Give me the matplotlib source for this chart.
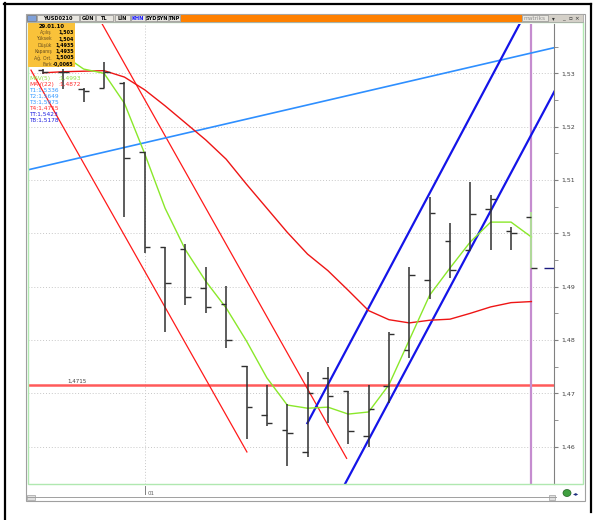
import matplotlib
matplotlib.use("Agg")
import matplotlib.pyplot as plt
from matplotlib.patches import Rectangle, Circle
from matplotlib.lines import Line2D
from matplotlib.transforms import blended_transform_factory

W, H = 598, 520

# daily OHLC bars (index 0..24), YUSD0210
opens = [1.5306, 1.5302, 1.5271, 1.5272, 1.5282, 1.5152, 1.4975, 1.4970, 1.4897, 1.4867,
         1.4751, 1.4659, 1.4631, 1.4589, 1.4729, 1.4705, 1.4620, 1.4714, 1.4782, 1.4912,
         1.4986, 1.4969, 1.5046, 1.5005, 1.5030]
highs = [1.5308, 1.5308, 1.5272, 1.5322, 1.5284, 1.5152, 1.4975, 1.4980, 1.4937, 1.4901,
         1.4751, 1.4716, 1.4680, 1.4739, 1.4750, 1.4705, 1.4716, 1.4814, 1.4936, 1.5069,
         1.5020, 1.5096, 1.5071, 1.5012, 1.5040]
lows = [1.5299, 1.5271, 1.5246, 1.5272, 1.5031, 1.4964, 1.4815, 1.4866, 1.4851, 1.4784,
        1.4614, 1.4639, 1.4564, 1.4580, 1.4645, 1.4605, 1.4600, 1.4681, 1.4766, 1.4876,
        1.4916, 1.4969, 1.4969, 1.4969, 1.4935]
closes = [1.5302, 1.5303, 1.5267, 1.5302, 1.5142, 1.4975, 1.4906, 1.4881, 1.4861, 1.4800,
          1.4675, 1.4644, 1.4625, 1.4701, 1.4695, 1.4630, 1.4670, 1.4811, 1.4922, 1.5039,
          1.4931, 1.5036, 1.5064, 1.5000, 1.4935]

# moving averages
mav5 = [1.5347, 1.5334, 1.5308, 1.5300, 1.5244, 1.5149, 1.5047, 1.4969, 1.4910, 1.4860,
        1.4798, 1.4729, 1.4678, 1.4672, 1.4674, 1.4661, 1.4665, 1.4716, 1.4800, 1.4884,
        1.4935, 1.4984, 1.5021, 1.5021, 1.4993]
mav22 = [1.5301, 1.5303, 1.5304, 1.5305, 1.5293, 1.5269, 1.5239, 1.5207, 1.5175, 1.5139,
         1.5092, 1.5047, 1.5002, 1.4961, 1.4930, 1.4893, 1.4855, 1.4838, 1.4832, 1.4837,
         1.4839, 1.4850, 1.4862, 1.4870, 1.4872]

# trend lines, end points as (bar index, price)
red_trend_1 = [(-0.59, 1.5306), (10.02, 1.4590)]
red_trend_2 = [(2.885, 1.5394), (14.92, 1.4578)]
blue_trend = [(-0.74, 1.5119), (25.11, 1.5348)]
channel_up = [(12.99, 1.4644), (23.44, 1.5394)]
channel_low = [(14.84, 1.4530), (25.13, 1.5266)]
level_line = 1.4715

y_ticks = [1.46, 1.47, 1.48, 1.49, 1.50, 1.51, 1.52, 1.53]
y_labels = ["1,46", "1,47", "1,48", "1,49", "1,5", "1,51", "1,52", "1,53"]

info_rows = [("Açılış", "1,503"), ("Yüksek", "1,504"), ("Düşük", "1,4935"),
             ("Kapanış", "1,4935"), ("Ağ. Ort.", "1,5005"), ("Fark", "-0,0065")]
legend_rows = [("MAV(5)", ":1,4993", "#8ee040"), ("MAV(22)", ":1,4872", "#ff3030"),
               ("T1:1,5336", "", "#3399ff"), ("T2:1,5649", "", "#3399ff"),
               ("T3:1,5975", "", "#3399ff"), ("T4:1,4715", "", "#ff3030"),
               ("TT:1,5423", "", "#2020e0"), ("T8:1,5178", "", "#2020e0")]

fig = plt.figure(figsize=(W / 100, H / 100), dpi=100)
fig.patch.set_facecolor("white")


def rect(x0, y0, x1, y1, **kw):
    r = Rectangle((x0 / W, 1 - y1 / H), (x1 - x0) / W, (y1 - y0) / H,
                  transform=fig.transFigure, **kw)
    fig.add_artist(r)
    return r


def line(xs, ys, **kw):
    fig.add_artist(Line2D([x / W for x in xs], [1 - y / H for y in ys],
                          transform=fig.transFigure, **kw))


def text(x, y, s, **kw):
    fig.text(x / W, 1 - y / H, s, **kw)


# outer frame and window
line([5, 5], [3, 520], color="black", lw=1.6)
line([4, 591], [4, 4], color="black", lw=1.6)
line([591, 591], [4, 512], color="black", lw=1.6)
rect(26, 14, 585, 501, facecolor="white", edgecolor="#a0a0a0", lw=0.8, zorder=0)

# chart area
ax = fig.add_axes([28 / W, 1 - 484 / H, (554 - 28) / W, (484 - 24) / H])
ax.set_xlim(-0.737, 25.11)
ax.set_ylim(1.45299, 1.53925)
ax.patch.set_alpha(0)
for s in ["left", "top", "bottom"]:
    ax.spines[s].set_visible(False)
ax.spines["right"].set_color("#808080")
ax.yaxis.tick_right()
ax.set_yticks(y_ticks, y_labels)
ax.set_yticks([t + 0.005 for t in y_ticks], minor=True)
ax.tick_params(axis="y", which="both", direction="out", length=3, color="#808080",
               labelsize=4.5, pad=2, labelcolor="#404040")
ax.set_xticks([])
ax.grid(axis="y", color="#c8c8c8", ls=(0, (1, 2)), lw=0.7)
ax.axvline(5, color="#c8c8c8", ls=(0, (1, 2)), lw=0.7)

# trend lines
ax.axhline(level_line, color="#ff5a5a", lw=1.8, zorder=2)
ax.text(1.2, level_line + 0.0004, "1,4715", fontsize=4, color="#404040")
for pts, c, lw in [(red_trend_1, "#ff1a1a", 0.9), (red_trend_2, "#ff1a1a", 0.9),
                   (blue_trend, "#2e8fff", 1.2), (channel_up, "#1414e8", 1.6),
                   (channel_low, "#1414e8", 1.6)]:
    ax.plot([p[0] for p in pts], [p[1] for p in pts], color=c, lw=lw, zorder=3)

ax.axvline(24, color="#c58ccf", lw=1.6, zorder=2)

# moving averages
idx = list(range(len(closes)))
ax.plot(idx, mav22, color="#ee1515", lw=1.0, zorder=4)
ax.plot(idx, mav5, color="#8ae82a", lw=1.0, zorder=4)

# OHLC bars
for i in idx:
    c = "#aaf08a" if i == len(idx) - 1 else "#303030"
    ax.vlines(i, lows[i], highs[i], color=c, lw=1.1, zorder=5)
    ax.hlines(opens[i], i - 0.27, i, color="#303030", lw=1.0, zorder=5)
    ax.hlines(closes[i], i, i + 0.27, color="#303030", lw=1.0, zorder=5)
ax.hlines(closes[-1], 24.6, 25.11, color="#1a1a80", lw=1.0, zorder=5)

# bottom date strip
tr = blended_transform_factory(ax.transData, ax.transAxes)
ax.plot([5, 5], [-0.004, -0.022], color="#808080", lw=0.7, transform=tr, clip_on=False)
ax.text(5.12, -0.02, "01", fontsize=4, color="#606060", transform=tr, va="center")

# green border, scroll bar, bottom icons
rect(28, 22, 583, 484, facecolor="none", edgecolor="#b0e8b0", lw=1.0)
line([27, 556], [497, 497], color="#a0a0a0", lw=0.7)
rect(27, 495, 35, 500, facecolor="#e0e0e0", edgecolor="#a0a0a0", lw=0.5)
rect(549, 495, 555, 500, facecolor="#e0e0e0", edgecolor="#a0a0a0", lw=0.5)
fig.add_artist(Circle((567 / W, 1 - 493 / H), 4 / W, transform=fig.transFigure,
                      facecolor="#40a040", edgecolor="#206020", lw=0.5))
text(573, 493.5, "◂▸", fontsize=4.5, color="#203080", va="center")

# toolbar
rect(26, 14, 583, 22, facecolor="#d4d0c8", edgecolor="#a0a0a0", lw=0.5)
rect(181, 14.5, 522, 21.5, facecolor="#ff8000", edgecolor="none")
rect(27, 15, 36, 21, facecolor="#7fa0d8", edgecolor="#606060", lw=0.4)
buttons = [(37, 79, "YUSD0210", "black"), (80, 95, "GÜN", "black"), (96, 113, "TL", "black"),
           (115, 130, "LİN", "black"), (131, 145, "KHN", "#1010ff"), (146, 157, "SYD", "black"),
           (157, 168, "SYN", "black"), (169, 180, "TNP", "black")]
for x0, x1, lbl, col in buttons:
    rect(x0, 15, x1, 21, facecolor="#e8e6e0", edgecolor="#808080", lw=0.4)
    text((x0 + x1) / 2, 18.3, lbl, fontsize=3.6, color=col, ha="center", va="center",
         fontweight="bold")
rect(522, 15, 548, 21, facecolor="#e8e6e0", edgecolor="#808080", lw=0.4)
text(535, 18.3, "matriks", fontsize=4.2, color="#909090", ha="center", va="center")
for x, s in [(553, "▾"), (563, "_"), (570, "▫"), (577, "×")]:
    text(x, 18.3, s, fontsize=4, color="#303030", ha="center", va="center")

# info box
rect(28.3, 22.7, 75, 66.7, facecolor="#f9c23a", edgecolor="none", zorder=6)
text(51.5, 27, "29.01.10", fontsize=3.8, fontweight="bold", ha="center", va="center",
     zorder=7)
for k, (lbl, val) in enumerate(info_rows):
    y = 32.7 + k * 6.3
    text(52, y, lbl, fontsize=3.3, color="#6a5020", ha="right", va="center", zorder=7)
    text(73.8, y, val, fontsize=3.4, fontweight="bold", ha="right", va="center", zorder=7)

# legend text
for k, (lbl, val, col) in enumerate(legend_rows):
    y = 78.5 + k * 6.0
    text(29, y, lbl, fontsize=4.2, color=col, va="center", zorder=7)
    if val:
        text(58, y, val, fontsize=4.2, color=col, va="center", zorder=7)

fig.savefig("out.png", dpi=100)
